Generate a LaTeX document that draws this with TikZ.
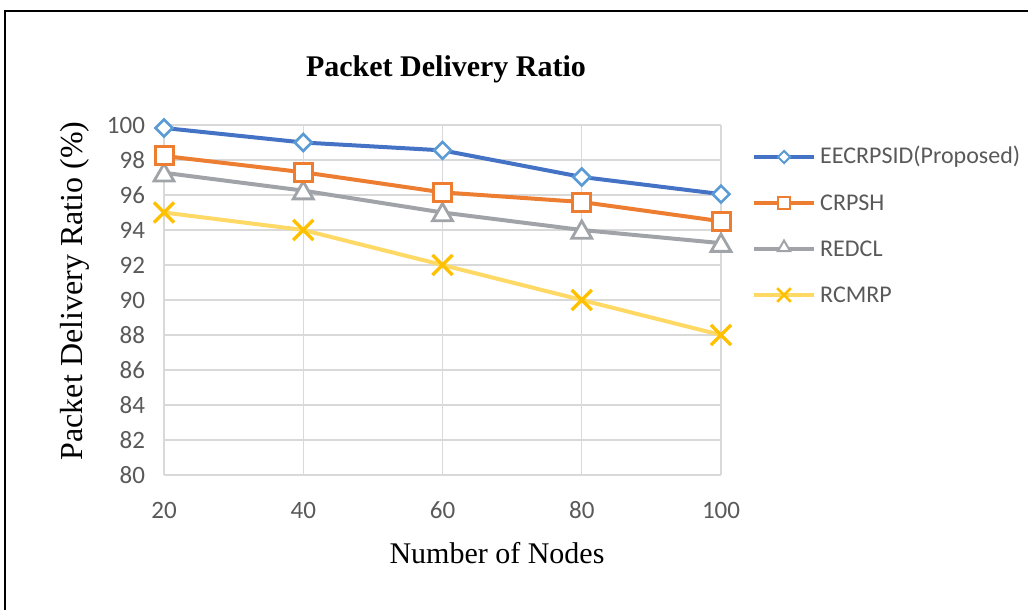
\documentclass[tikz,border=0pt]{standalone}
\usepackage{fontspec}
\setmainfont{Liberation Serif}
\newfontfamily\calib{Carlito}
\usetikzlibrary{shapes.geometric,shapes.misc}
\definecolor{cblue}{HTML}{4472C4}
\definecolor{cbluem}{HTML}{5B9BD5}
\definecolor{corange}{HTML}{ED7D31}
\definecolor{cgray}{HTML}{A0A3A8}
\definecolor{cyell}{HTML}{FFD966}
\definecolor{cyellm}{HTML}{FFC000}
\definecolor{cgrid}{HTML}{D9D9D9}
\definecolor{ctext}{HTML}{595959}
\tikzset{
  gridline/.style={draw=cgrid,line width=1.3pt},
  serline/.style={line width=4pt,line join=round,line cap=round},
  mkdia/.style={diamond,draw=cbluem,fill=white,line width=2.6pt,inner sep=0pt,minimum width=18pt,minimum height=18pt},
  mksq/.style={rectangle,draw=corange,fill=white,line width=3pt,inner sep=0pt,minimum size=18pt},
  mktri/.style={regular polygon,regular polygon sides=3,draw=cgray,fill=white,line width=2.8pt,inner sep=0pt,minimum size=23pt},
  mkx/.style={cross out,draw=cyellm,line width=3.2pt,inner sep=0pt,minimum size=17pt},
  ticklab/.style={font=\calib\fontsize{25}{28}\selectfont,text=ctext,inner sep=0pt},
  leglab/.style={font=\calib\fontsize{24}{28}\selectfont,text=ctext,inner sep=0pt,anchor=west},
}
\begin{document}
\begin{tikzpicture}[x=1pt,y=-1pt]
\useasboundingbox (0,0) rectangle (1028,610);
% frame
\draw[line width=2pt,black] (5,612) -- (5,11) -- (1030,11);
% title and axis titles
\node[font=\bfseries\fontsize{30}{34}\selectfont] (title) at (446,69) {Packet Delivery Ratio};
\node[font=\fontsize{32}{34}\selectfont,rotate=90] (ylab) at (75,291) {Packet Delivery Ratio (\%)};
\node[font=\fontsize{30}{34}\selectfont] (xlab) at (497,553) {Number of Nodes};
\begin{scope}[shift={(24.75,1875)},x=6.9625pt,y=17.5pt]
  \foreach \v in {80,82,...,100} {
    \draw[gridline] (20,\v) -- (100,\v);
    \node[ticklab,anchor=east] (yt\v) at (17.3,\v) {\v};
  }
  \foreach \u in {20,40,...,100} {
    \draw[gridline] (\u,80) -- (\u,100);
    \node[ticklab] (xt\u) at (\u,78.0) {\u};
  }
  % data coordinates
  \coordinate (b1) at (20,99.83); \coordinate (b2) at (40,99.0); \coordinate (b3) at (60,98.55); \coordinate (b4) at (80,97.03); \coordinate (b5) at (100,96.05);
  \coordinate (o1) at (20,98.23); \coordinate (o2) at (40,97.3); \coordinate (o3) at (60,96.15); \coordinate (o4) at (80,95.6); \coordinate (o5) at (100,94.5);
  \coordinate (g1) at (20,97.27); \coordinate (g2) at (40,96.25); \coordinate (g3) at (60,95.0); \coordinate (g4) at (80,94.0); \coordinate (g5) at (100,93.25);
  \coordinate (y1) at (20,95); \coordinate (y2) at (40,94); \coordinate (y3) at (60,92); \coordinate (y4) at (80,90); \coordinate (y5) at (100,88);
\end{scope}
% series lines
\draw[serline,cyell] (y1) -- (y2) -- (y3) -- (y4) -- (y5);
\draw[serline,cgray] (g1) -- (g2) -- (g3) -- (g4) -- (g5);
\draw[serline,corange] (o1) -- (o2) -- (o3) -- (o4) -- (o5);
\draw[serline,cblue] (b1) -- (b2) -- (b3) -- (b4) -- (b5);
% markers
\foreach \i in {1,...,5} {
  \node[mkx] (my\i) at (y\i) {};
  \node[mktri] (mg\i) at ([yshift=-2.5pt]g\i) {};
  \node[mksq] (mo\i) at (o\i) {};
  \node[mkdia] (mb\i) at (b\i) {};
}
% legend
\coordinate (l1a) at (754,157); \coordinate (l1b) at (814,157);
\coordinate (l2a) at (754,203); \coordinate (l2b) at (814,203);
\coordinate (l3a) at (754,249); \coordinate (l3b) at (814,249);
\coordinate (l4a) at (754,295); \coordinate (l4b) at (814,295);
\draw[serline,line cap=butt,cblue] (l1a) -- (l1b);
\node[mkdia,minimum width=13pt,minimum height=13pt,line width=2pt] (lm1) at (784,157) {};
\draw[serline,line cap=butt,corange] (l2a) -- (l2b);
\node[mksq,minimum size=12pt,line width=2.4pt] (lm2) at (784,203) {};
\draw[serline,line cap=butt,cgray] (l3a) -- (l3b);
\node[mktri,minimum size=14pt,line width=2pt] (lm3) at (784,247.5) {};
\draw[serline,line cap=butt,cyell] (l4a) -- (l4b);
\node[mkx,minimum size=11pt,line width=2.6pt] (lm4) at (784,295) {};
\node[leglab] (lt1) at (820,157) {EECRPSID(Proposed)};
\node[leglab] (lt2) at (820,203) {CRPSH};
\node[leglab] (lt3) at (820,249) {REDCL};
\node[leglab] (lt4) at (820,295) {RCMRP};
\end{tikzpicture}
\end{document}
